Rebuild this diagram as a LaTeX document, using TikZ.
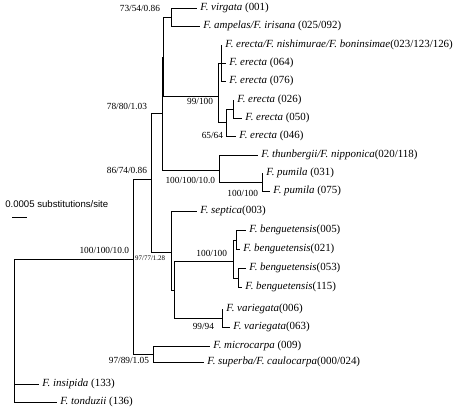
\documentclass[tikz,border=0pt]{standalone}
\usepackage{fontspec}
\setmainfont{Liberation Serif}
\newfontfamily\barfont{Liberation Sans}
\usetikzlibrary{calc}
\tikzset{
  branch/.style={line width=0.6pt},
  tiplab/.style={anchor=west, inner xsep=2.4pt, inner ysep=0pt, font=\fontsize{8.2}{9}\selectfont},
  suplab/.style={anchor=east, inner sep=0.5pt, font=\fontsize{7}{8}\selectfont},
}
\begin{document}
\begin{tikzpicture}[x=0.75pt,y=-0.75pt]
\useasboundingbox (0,0) rectangle (460,410);
% inner nodes
\coordinate (root) at (14,330);
\coordinate (cA) at (133,259);
\coordinate (cB) at (151,179);
\coordinate (cC) at (162,113);
\coordinate (cCC) at (163,57);
\coordinate (cV) at (171,17);
\coordinate (cE) at (218,96);
\coordinate (cE1) at (221,63);
\coordinate (cE2) at (226,122);
\coordinate (cE3) at (233,109);
\coordinate (cT) at (219,170);
\coordinate (cP) at (262,182);
\coordinate (cD) at (171,252);
\coordinate (cD2) at (174,290);
\coordinate (cG) at (233,261);
\coordinate (cG1) at (236,240);
\coordinate (cG2) at (238,278);
\coordinate (cH) at (222,318);
\coordinate (cF) at (153,354);
% tips
\coordinate (t1) at (197,8);
\coordinate (t2) at (200,26);
\coordinate (t3) at (222,45);
\coordinate (t4) at (226,63);
\coordinate (t5) at (226,81);
\coordinate (t6) at (234,100);
\coordinate (t7) at (242,118);
\coordinate (t8) at (236,136);
\coordinate (t9) at (258,155);
\coordinate (t10) at (263,173);
\coordinate (t11) at (270,191);
\coordinate (t12) at (197,211);
\coordinate (t13) at (246,230);
\coordinate (t14) at (240,249);
\coordinate (t15) at (246,268);
\coordinate (t16) at (242,287);
\coordinate (t17) at (223,309);
\coordinate (t18) at (230,327);
\coordinate (t19) at (210,346);
\coordinate (t20) at (204,362);
\coordinate (t21) at (39,384);
\coordinate (t22) at (57,402);
% branches
\foreach \p/\c in {root/cA, root/t21, root/t22, cA/cB, cA/cF, cB/cC, cB/cD,
  cC/cCC, cC/cT, cCC/cV, cCC/cE, cV/t1, cV/t2, cE/cE1, cE/cE2,
  cE1/t3, cE1/t4, cE1/t5, cE2/cE3, cE2/t8, cE3/t6, cE3/t7,
  cT/t9, cT/cP, cP/t10, cP/t11, cD/t12, cD/cD2, cD2/cG, cD2/cH,
  cG/cG1, cG/cG2, cG1/t13, cG1/t14, cG2/t15, cG2/t16, cH/t17, cH/t18,
  cF/t19, cF/t20}
  \draw[branch] (\p) |- (\c);
% tip labels
\node[tiplab] (l1) at (t1) {\textit{F. virgata} (001)};
\node[tiplab] (l2) at (t2) {\textit{F. ampelas/F. irisana} (025/092)};
\node[tiplab] (l3) at (t3) {\textit{F. erecta/F. nishimurae/F. boninsimae}(023/123/126)};
\node[tiplab] (l4) at (t4) {\textit{F. erecta} (064)};
\node[tiplab] (l5) at (t5) {\textit{F. erecta} (076)};
\node[tiplab] (l6) at (t6) {\textit{F. erecta} (026)};
\node[tiplab] (l7) at (t7) {\textit{F. erecta} (050)};
\node[tiplab] (l8) at (t8) {\textit{F. erecta} (046)};
\node[tiplab] (l9) at (t9) {\textit{F. thunbergii/F. nipponica}(020/118)};
\node[tiplab] (l10) at (t10) {\textit{F. pumila} (031)};
\node[tiplab] (l11) at (t11) {\textit{F. pumila} (075)};
\node[tiplab] (l12) at (t12) {\textit{F. septica}(003)};
\node[tiplab] (l13) at (t13) {\textit{F. benguetensis}(005)};
\node[tiplab] (l14) at (t14) {\textit{F. benguetensis}(021)};
\node[tiplab] (l15) at (t15) {\textit{F. benguetensis}(053)};
\node[tiplab] (l16) at (t16) {\textit{F. benguetensis}(115)};
\node[tiplab] (l17) at (t17) {\textit{F. variegata}(006)};
\node[tiplab] (l18) at (t18) {\textit{F. variegata}(063)};
\node[tiplab] (l19) at (t19) {\textit{F. microcarpa} (009)};
\node[tiplab] (l20) at (t20) {\textit{F. superba/F. caulocarpa}(000/024)};
\node[tiplab] (l21) at (t21) {\textit{F. insipida} (133)};
\node[tiplab] (l22) at (t22) {\textit{F. tonduzii} (136)};
% support values
\node[suplab] (s1) at (161,8) {73/54/0.86};
\node[suplab] (s2) at (148,106) {78/80/1.03};
\node[suplab] (s3) at (148,170) {86/74/0.86};
\node[suplab] (s4) at (214,101) {99/100};
\node[suplab] (s5) at (224,135) {65/64};
\node[suplab] (s6) at (216,180) {100/100/10.0};
\node[suplab] (s7) at (259,193) {100/100};
\node[suplab] (s8) at (130,250) {100/100/10.0};
\node[suplab, font=\fontsize{5.2}{6}\selectfont] (s9) at (166,258) {97/77/1.28};
\node[suplab] (s10) at (228,253) {100/100};
\node[suplab] (s11) at (215,326) {99/94};
\node[suplab] (s12) at (150,360) {97/89/1.05};
% scale bar
\node[anchor=west, inner sep=0pt, font=\barfont\fontsize{7.2}{8}\selectfont] (sclab) at (5,204) {0.0005 substitutions/site};
\coordinate (sbl) at (12,217);
\coordinate (sbr) at (27,217);
\draw[branch] (sbl) -- (sbr);
\end{tikzpicture}
\end{document}
